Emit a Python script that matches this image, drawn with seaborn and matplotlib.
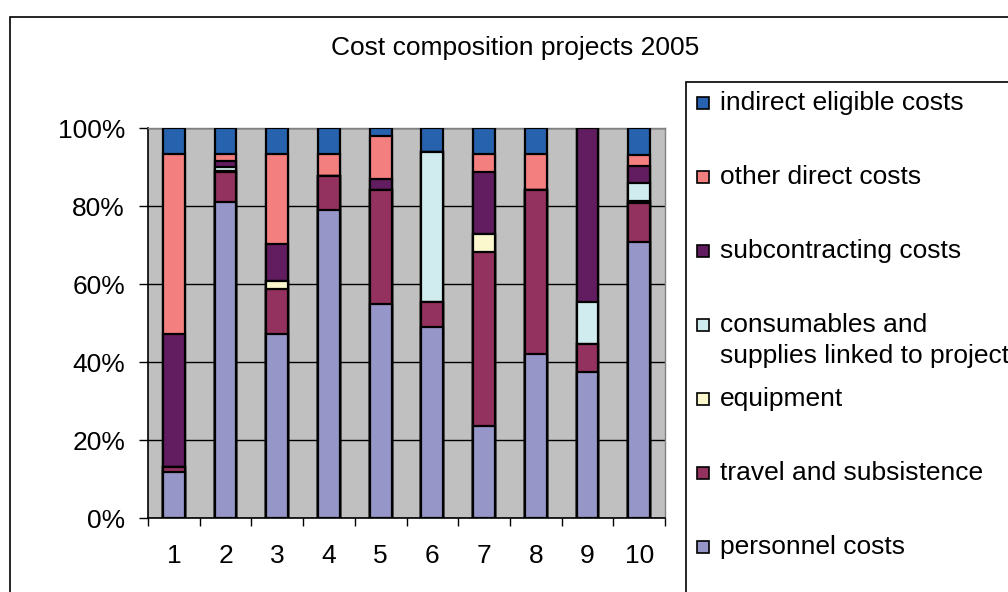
import matplotlib
matplotlib.use("Agg")
import matplotlib.pyplot as plt
from matplotlib.patches import Rectangle
from matplotlib.ticker import FixedLocator, FuncFormatter
import numpy as np
import pandas as pd
import seaborn as sns

# ---- data (shares of total cost, %) ----
projects = ["1", "2", "3", "4", "5", "6", "7", "8", "9", "10"]
personnel      = [11.7, 80.9, 47.2, 79.0, 54.9, 49.1, 23.5, 42.1, 37.4, 70.8]
travel         = [1.4,  7.7,  11.6, 8.6,  29.3, 6.4,  44.6, 42.1, 7.3,  10.0]
equipment      = [0.0,  0.5,  1.9,  0.0,  0.0,  0.0,  4.7,  0.0,  0.0,  0.5]
consumables    = [0.0,  0.9,  0.0,  0.0,  0.0,  38.3, 0.0,  0.0,  10.6, 4.7]
subcontracting = [34.1, 1.6,  9.6,  0.0,  2.6,  0.0,  15.9, 0.0,  44.7, 4.3]
other_direct   = [46.1, 1.7,  23.0, 5.7,  11.2, 0.0,  4.6,  9.1,  0.0,  2.9]
indirect       = [6.7,  6.7,  6.7,  6.7,  2.0,  6.2,  6.7,  6.7,  0.0,  6.8]

series_names = ["personnel costs", "travel and subsistence", "equipment",
                "consumables and\nsupplies linked to project",
                "subcontracting costs", "other direct costs",
                "indirect eligible costs"]
series_values = [personnel, travel, equipment, consumables,
                 subcontracting, other_direct, indirect]
series_colors = ["#9696C8", "#93325E", "#FAF8CC", "#D0ECEF",
                 "#611D5F", "#F47F7F", "#2762AE"]

FONT = "Liberation Sans"
FS = 19

W, H = 1008, 592
fig = plt.figure(figsize=(W / 100, H / 100), dpi=100)
fig.patch.set_facecolor("white")

def fx(px):
    return px / W

def fy(py):
    return 1 - py / H

# chart area frame
fig.patches.append(Rectangle((fx(10), fy(600)), fx(1100), fy(17) - fy(600),
                             transform=fig.transFigure, fill=False,
                             edgecolor="black", linewidth=1.2))

ax = fig.add_axes([fx(148), fy(518), fx(665) - fx(148), fy(128) - fy(518)])
ax.set_facecolor("#C0C0C0")

# stacked bars: draw cumulative totals from the top segment down
df = pd.DataFrame({name: vals for name, vals in zip(series_names, series_values)},
                  index=projects)
cum = df.cumsum(axis=1)
for name, color in reversed(list(zip(series_names, series_colors))):
    sns.barplot(x=projects, y=cum[name].values, color=color, saturation=1,
                edgecolor="black", linewidth=1.6, width=0.42, errorbar=None,
                ax=ax, zorder=3)

ax.set_xlabel("")
ax.set_ylabel("")
ax.set_xlim(-0.5, len(projects) - 0.5)
ax.set_ylim(0, 100)

# grid
ax.set_yticks([0, 20, 40, 60, 80, 100])
ax.yaxis.set_major_formatter(FuncFormatter(lambda v, p: f"{int(v)}%"))
ax.grid(axis="y", color="black", linewidth=1.0, zorder=1)
ax.grid(axis="x", visible=False)
ax.set_axisbelow(True)

# ticks
ax.tick_params(axis="y", direction="out", length=6.5, width=1, pad=10,
               labelsize=FS, color="black")
ax.tick_params(axis="x", which="major", length=0, pad=19, labelsize=FS)
ax.xaxis.set_minor_locator(FixedLocator(np.arange(-0.5, len(projects), 1.0)))
ax.tick_params(axis="x", which="minor", direction="out", length=6, width=1,
               color="black")
for lab in ax.get_xticklabels() + ax.get_yticklabels():
    lab.set_fontfamily(FONT)

for side in ["left", "bottom"]:
    ax.spines[side].set_color("black")
    ax.spines[side].set_linewidth(1.2)
for side in ["top", "right"]:
    ax.spines[side].set_color("#808080")
    ax.spines[side].set_linewidth(1.0)

fig.text(fx(515), fy(48), "Cost composition projects 2005", ha="center",
         va="center", fontsize=FS, family=FONT)

# legend box
fig.patches.append(Rectangle((fx(686), fy(600)), fx(1100) - fx(686),
                             fy(82) - fy(600), transform=fig.transFigure,
                             fill=False, edgecolor="black", linewidth=1.2))
entry_y = 103
for name, color in reversed(list(zip(series_names, series_colors))):
    fig.patches.append(Rectangle((fx(697), fy(entry_y + 6)), fx(12), fy(0) - fy(12),
                                 transform=fig.transFigure, facecolor=color,
                                 edgecolor="black", linewidth=1.2))
    for k, line in enumerate(name.split("\n")):
        fig.text(fx(720), fy(entry_y + 31 * k), line, ha="left", va="center",
                 fontsize=FS, family=FONT)
    entry_y += 74

fig.savefig("out.png", dpi=100)
